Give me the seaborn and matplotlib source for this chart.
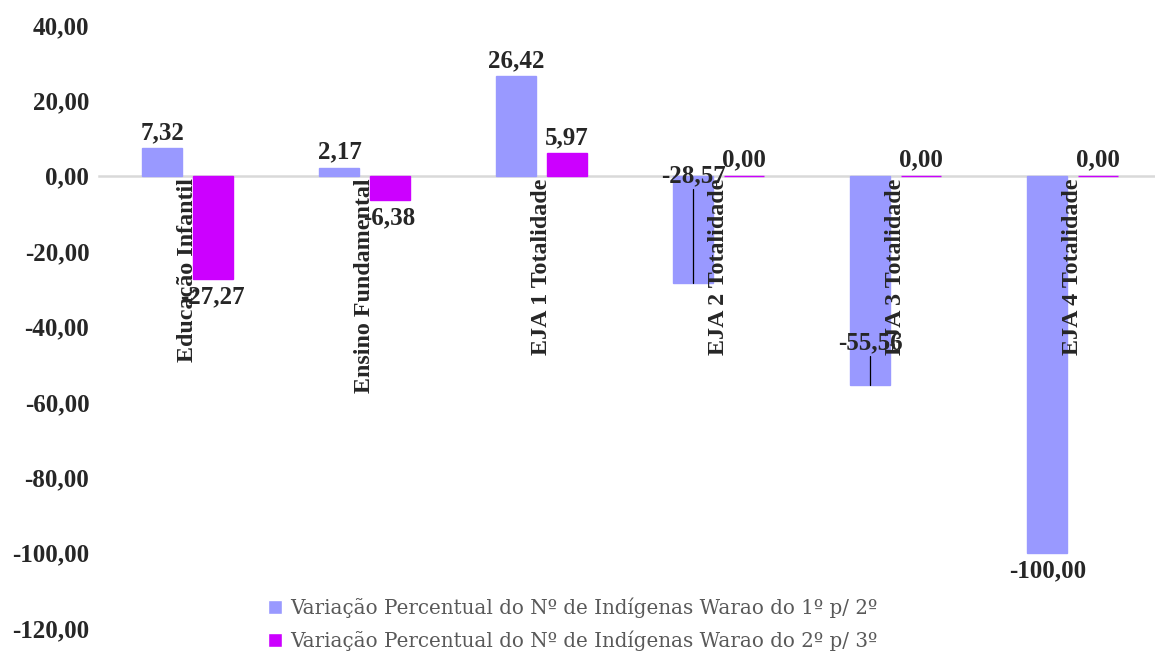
import pandas as pd
import matplotlib.pyplot as plt
import seaborn as sns
from matplotlib.ticker import FuncFormatter

# Dados
categorias = [
    "Educação Infantil",
    "Ensino Fundamental",
    "EJA 1 Totalidade",
    "EJA 2 Totalidade",
    "EJA 3 Totalidade",
    "EJA 4 Totalidade",
]
serie_1 = [7.32, 2.17, 26.42, -28.57, -55.56, -100.00]
serie_2 = [-27.27, -6.38, 5.97, 0.00, 0.00, 0.00]
nomes_series = [
    "Variação Percentual do Nº de Indígenas Warao do 1º p/ 2º",
    "Variação Percentual do Nº de Indígenas Warao do 2º p/ 3º",
]
cores = ["#9999FF", "#CC00FF"]

# rótulos com posição manual (série, categoria) -> y do rótulo
rotulos_manuais = {(0, 3): 0.0, (0, 4): -44.3}

df = pd.DataFrame({
    "categoria": categorias * 2,
    "valor": serie_1 + serie_2,
    "serie": [nomes_series[0]] * len(categorias) + [nomes_series[1]] * len(categorias),
})

sns.set_style("white")
plt.rcParams["font.family"] = ["Liberation Serif", "DejaVu Serif"]

fig = plt.figure(figsize=(11.55, 6.51), dpi=100)
ax = fig.add_axes([99 / 1155, 0.0353, 1062 / 1155, 0.9263])

sns.barplot(
    data=df, x="categoria", y="valor", hue="serie",
    palette=cores, saturation=1, width=0.565, gap=0.2, ax=ax, legend=True,
)

# borda da mesma cor (barras com valor zero aparecem como linha)
for cont in ax.containers:
    for barra in cont:
        barra.set_edgecolor(barra.get_facecolor())
        barra.set_linewidth(1)

ax.set_ylim(-120, 40)
ax.set_xlim(-0.5, len(categorias) - 0.5)
ax.set_yticks(range(-120, 41, 20))
ax.yaxis.set_major_formatter(FuncFormatter(lambda v, p: f"{v:.2f}".replace(".", ",")))
ax.set_xlabel("")
ax.set_ylabel("")
ax.set_axisbelow(False)

for s in ["top", "right", "left"]:
    ax.spines[s].set_visible(False)
ax.spines["bottom"].set_position(("data", 0))
ax.spines["bottom"].set_color("#D9D9D9")
ax.spines["bottom"].set_linewidth(1.8)
ax.spines["bottom"].set_zorder(0)

ax.tick_params(axis="both", length=0)
ax.tick_params(axis="y", pad=7, labelsize=18)
ax.tick_params(axis="x", pad=2, labelsize=17.3, rotation=90)
for t in ax.get_yticklabels() + ax.get_xticklabels():
    t.set_fontweight("bold")
for t in ax.get_xticklabels():
    t.set_verticalalignment("top")

# Rótulos de dados
for i, cont in enumerate(ax.containers):
    for j, barra in enumerate(cont):
        v = barra.get_height()
        x = barra.get_x() + barra.get_width() / 2
        txt = f"{v:.2f}".replace(".", ",")
        if (i, j) in rotulos_manuais:
            y_rot = rotulos_manuais[(i, j)]
            ax.text(x, y_rot, txt, ha="center", va="center",
                    fontsize=18, fontweight="bold", zorder=5)
            ax.plot([x, x], [y_rot - 3.4, v], color="black", lw=0.9, zorder=4)
        elif v >= 0:
            ax.annotate(txt, (x, v), xytext=(0, 3), textcoords="offset points",
                        ha="center", va="bottom", fontsize=18, fontweight="bold")
        else:
            ax.annotate(txt, (x, v), xytext=(0, -5), textcoords="offset points",
                        ha="center", va="top", fontsize=18, fontweight="bold")

handles, labels = ax.get_legend_handles_labels()
ax.get_legend().remove()
leg = fig.legend(
    handles, labels, loc="lower center", bbox_to_anchor=(573 / 1155, -0.028),
    ncol=1, frameon=False, prop={"family": "DejaVu Serif", "size": 14.3},
    handlelength=0.7, handleheight=0.7, handletextpad=0.4, labelspacing=0.65,
)
for t in leg.get_texts():
    t.set_color("#595959")

fig.savefig("out.png", dpi=100)
